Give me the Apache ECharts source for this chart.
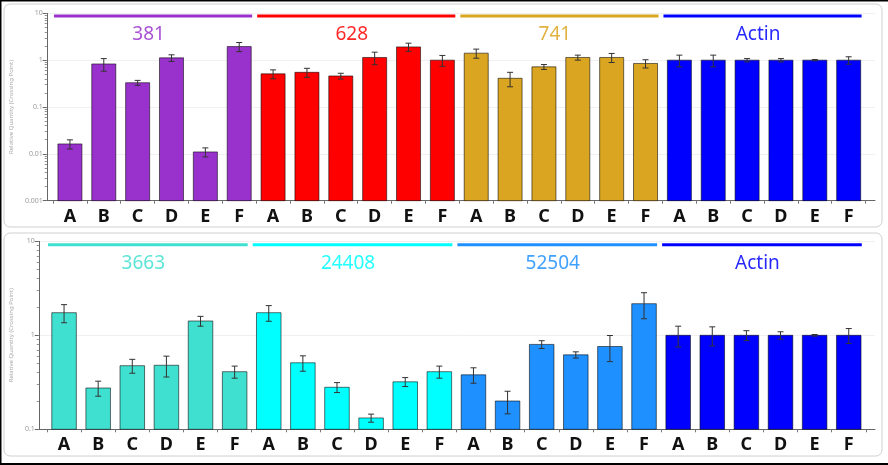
<!DOCTYPE html>
<html>
<head>
<meta charset="utf-8">
<script src="https://cdn.jsdelivr.net/npm/echarts@6/dist/echarts.min.js"></script>
<style>
html,body{margin:0;padding:0;background:#fff;}
#c{width:888px;height:465px;}
</style>
</head>
<body>
<div id="c"></div>
<script>
// ---------- DATA ----------
const categories = ['A','B','C','D','E','F','A','B','C','D','E','F','A','B','C','D','E','F','A','B','C','D','E','F'];
const yRangeTop = [0.001, 10];
const yRangeBottom = [0.1, 10];

// top panel
const topGroups = ['381','628','741','Actin'];
const g381   = [0.0163, 0.83, 0.33, 1.12, 0.011, 1.95];
const e381   = [0.0036, 0.25, 0.04, 0.18, 0.0024, 0.43];
const g628   = [0.51, 0.55, 0.46, 1.14, 1.92, 1.00];
const e628   = [0.11, 0.12, 0.065, 0.34, 0.38, 0.26];
const g741   = [1.41, 0.41, 0.72, 1.14, 1.14, 0.85];
const e741   = [0.31, 0.14, 0.086, 0.14, 0.25, 0.17];
const gActin1 = [1.0, 1.0, 1.0, 1.0, 1.0, 1.0];
const eActin1 = [0.28, 0.28, 0.08, 0.08, 0.03, 0.18];

// bottom panel
const bottomGroups = ['3663','24408','52504','Actin'];
const g3663  = [1.74, 0.275, 0.475, 0.48, 1.42, 0.41];
const e3663  = [0.38, 0.05, 0.08, 0.12, 0.17, 0.06];
const g24408 = [1.74, 0.51, 0.28, 0.132, 0.32, 0.41];
const e24408 = [0.33, 0.095, 0.034, 0.013, 0.035, 0.06];
const g52504 = [0.38, 0.20, 0.80, 0.62, 0.76, 2.17];
const e52504 = [0.071, 0.054, 0.076, 0.047, 0.235, 0.67];
const gActin2 = [1.0, 1.0, 1.0, 1.0, 1.0, 1.0];
const eActin2 = [0.25, 0.23, 0.12, 0.09, 0.02, 0.18];

// ---------- STYLE ----------
const topColors = ['#9932CC','#FF0000','#DAA520','#0000FF'];
const bottomColors = ['#40E0D0','#00FFFF','#1E90FF','#0000FF'];

function buildPanel(vals, errs){
  const bars = [], eb = [];
  vals.forEach((arr, g) => {
    arr.forEach((v, i) => {
      const idx = g*6 + i;
      bars.push([idx, v, g]);
      eb.push([idx, v - errs[g][i], v + errs[g][i]]);
    });
  });
  return {bars, eb};
}
const topP = buildPanel([g381,g628,g741,gActin1],[e381,e628,e741,eActin1]);
const botP = buildPanel([g3663,g24408,g52504,gActin2],[e3663,e24408,e52504,eActin2]);

function barRender(colors, base, frac){
  return function(params, api){
    const x = api.value(0);
    const top = api.coord([x, api.value(1)]);
    const bot = api.coord([x, base]);
    const bw = api.size([1, 0])[0] * frac;
    return {type:'rect',
      shape:{x: top[0] - bw/2, y: top[1], width: bw, height: bot[1] - top[1]},
      style:{fill: colors[api.value(2)], stroke:'rgba(0,0,0,0.55)', lineWidth:1}};
  };
}
function errRender(params, api){
  const x = api.value(0);
  const p1 = api.coord([x, api.value(2)]);
  const p2 = api.coord([x, api.value(1)]);
  const hw = 3;
  const st = {stroke:'#333', lineWidth:1};
  return {type:'group', children:[
    {type:'line', shape:{x1:p1[0],y1:p1[1],x2:p2[0],y2:p2[1]}, style:st},
    {type:'line', shape:{x1:p1[0]-hw,y1:p1[1],x2:p1[0]+hw,y2:p1[1]}, style:st},
    {type:'line', shape:{x1:p2[0]-hw,y1:p2[1],x2:p2[0]+hw,y2:p2[1]}, style:st}
  ]};
}
function groupRender(names, colors, lineOff, textOff){
  return function(params, api){
    const s = api.value(0);
    const c0 = api.coord([s, api.value(1)]);
    const bw = api.size([1, 0])[0];
    const x0 = c0[0] - bw/2 + 1, x1 = c0[0] + 5.5*bw - 4;
    const col = colors[params.dataIndex];
    return {type:'group', children:[
      {type:'line', shape:{x1:x0, y1:c0[1]+lineOff, x2:x1, y2:c0[1]+lineOff}, style:{stroke:col, lineWidth:3}},
      {type:'text', style:{text:names[params.dataIndex], x:c0[0]+2.5*bw-6, y:c0[1]+textOff,
        fill:col, opacity:0.85, font:'19px "Noto Sans", sans-serif', align:'center', verticalAlign:'middle'}}
    ]};
  };
}

const frameX = (gi) => ({type:'value', gridIndex:gi, min:0, max:1, show:true,
  axisLine:{show:true, onZero:false, lineStyle:{color:'#666', width:1}},
  axisTick:{show:false}, axisLabel:{show:false}, splitLine:{show:false}});
const frameY = (gi, rng, nameGap) => ({type:'log', logBase:10, gridIndex:gi, min:rng[0], max:rng[1],
  name:'Relative Quantity (Crossing Point)', nameLocation:'middle', nameGap:nameGap,
  nameTextStyle:{fontSize:6, color:'#aaa', fontFamily:'Noto Sans'},
  axisLine:{show:true, lineStyle:{color:'#666'}},
  axisTick:{show:true, length:4, lineStyle:{color:'#666'}},
  minorTick:{show:true, splitNumber:9, length:2, lineStyle:{color:'#888'}},
  axisLabel:{fontSize:7, color:'#999', margin:4, fontFamily:'Noto Sans',
    formatter: v => String(+v.toPrecision(3))},
  splitLine:{show:true, lineStyle:{color:'#f0f0f0'}}});
const dataX = (gi) => ({type:'category', gridIndex:gi, data:categories,
  axisLine:{show:false}, axisTick:{show:true, length:3, lineStyle:{color:'#777'}},
  axisLabel:{fontSize:18, fontWeight:'bold', color:'#111', margin:7, fontFamily:'Noto Sans', interval:0}});
const dataY = (gi, rng) => ({type:'log', logBase:10, gridIndex:gi, min:rng[0], max:rng[1], show:false, splitLine:{show:false}});

const option = {
  animation:false,
  backgroundColor:'#ffffff',
  graphic:[
    {type:'rect', shape:{x:4, y:4, width:878, height:223, r:6}, style:{fill:'#fff', stroke:'#d0d0d0', lineWidth:1}, z:-10},
    {type:'rect', shape:{x:4, y:233, width:878, height:223, r:6}, style:{fill:'#fff', stroke:'#d0d0d0', lineWidth:1}, z:-10},
    {type:'rect', shape:{x:0, y:0, width:888, height:1.5}, style:{fill:'#000'}},
    {type:'rect', shape:{x:0, y:0, width:1.5, height:465}, style:{fill:'#000'}},
    {type:'rect', shape:{x:0, y:463, width:888, height:2}, style:{fill:'#000'}}
  ],
  grid:[
    {left:43, right:13, top:13.3, height:187.4},
    {left:53, right:22.4, top:13.3, height:187.4},
    {left:36, right:13, top:241.3, height:188},
    {left:47, right:22.2, top:241.3, height:188}
  ],
  xAxis:[frameX(0), dataX(1), frameX(2), dataX(3)],
  yAxis:[frameY(0, yRangeTop, 23), dataY(1, yRangeTop), frameY(2, yRangeBottom, 17), dataY(3, yRangeBottom)],
  series:[
    {type:'custom', xAxisIndex:1, yAxisIndex:1, data:topP.bars, renderItem:barRender(topColors, yRangeTop[0], 0.71), z:3},
    {type:'custom', xAxisIndex:1, yAxisIndex:1, data:topP.eb, renderItem:errRender, z:5, clip:false},
    {type:'custom', xAxisIndex:1, yAxisIndex:1, data:[[0,10],[6,10],[12,10],[18,10]],
      renderItem:groupRender(topGroups, topColors, 2.7, 21.5), clip:false, z:6},
    {type:'custom', xAxisIndex:3, yAxisIndex:3, data:botP.bars, renderItem:barRender(bottomColors, yRangeBottom[0], 0.72), z:3},
    {type:'custom', xAxisIndex:3, yAxisIndex:3, data:botP.eb, renderItem:errRender, z:5, clip:false},
    {type:'custom', xAxisIndex:3, yAxisIndex:3, data:[[0,10],[6,10],[12,10],[18,10]],
      renderItem:groupRender(bottomGroups, bottomColors, 3.4, 22.4), clip:false, z:6}
  ]
};
const chart = echarts.init(document.getElementById('c'), null, {renderer:'canvas'});
chart.setOption(option);
</script>
</body>
</html>
